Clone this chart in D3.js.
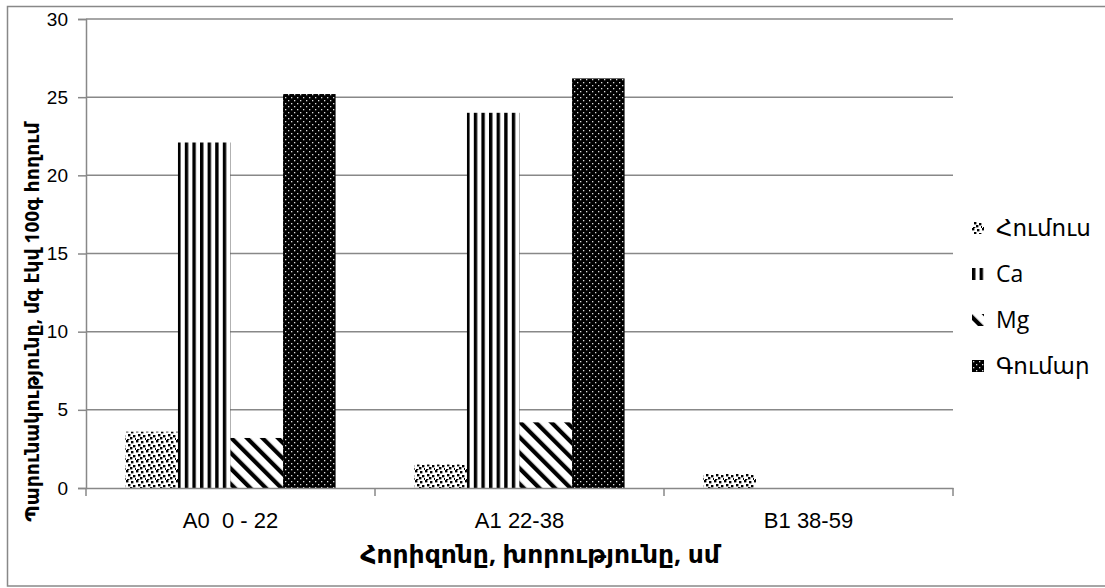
<!DOCTYPE html>
<html>
<head>
<meta charset="utf-8">
<script src="https://cdn.jsdelivr.net/npm/d3@7"></script>
<style>
  html, body { margin: 0; padding: 0; background: #fff; }
  svg { display: block; font-family: "Open Sans", "DejaVu Sans", sans-serif; }
</style>
</head>
<body>
<svg id="chart" width="1105" height="588"></svg>
<script>
// Soil horizons (depth, cm) and exchangeable cations, mg-eq per 100 g soil
const horizons = ["A0  0 - 22", "A1 22-38", "B1 38-59"];
const seriesNames = ["Հումուս", "Ca", "Mg", "Գումար"];
const humus = [3.6, 1.5, 0.9];
const calcium = [22.1, 24.0, 0];
const magnesium = [3.2, 4.2, 0];
const total = [25.2, 26.2, 0];
const yTicks = [0, 5, 10, 15, 20, 25, 30];

const seriesValues = [humus, calcium, magnesium, total];
const patternIds = ["pHumus", "pCa", "pMg", "pSum"];

const svg = d3.select("#chart");
const plotLeft = 86, plotRight = 953, plotTop = 19, plotBottom = 488;

// Hatch patterns used as bar fills
const defs = svg.append("defs");
const pH = defs.append("pattern").attr("id", "pHumus").attr("patternUnits", "userSpaceOnUse")
  .attr("width", 10).attr("height", 10);
pH.append("rect").attr("width", 10).attr("height", 10).attr("fill", "#fff");
[[0,0],[5,1],[2,4],[7,5],[4,7],[9,8],[1,9]].forEach(([x, y]) =>
  pH.append("rect").attr("x", x).attr("y", y).attr("width", 2.4).attr("height", 2.4).attr("fill", "#000"));

const pC = defs.append("pattern").attr("id", "pCa").attr("patternUnits", "userSpaceOnUse")
  .attr("width", 7.6).attr("height", 10);
pC.append("rect").attr("width", 7.6).attr("height", 10).attr("fill", "#fff");
pC.append("rect").attr("x", 0).attr("width", 3.4).attr("height", 10).attr("fill", "#000");

const pM = defs.append("pattern").attr("id", "pMg").attr("patternUnits", "userSpaceOnUse")
  .attr("width", 11).attr("height", 11).attr("patternTransform", "rotate(-45)");
pM.append("rect").attr("width", 11).attr("height", 11).attr("fill", "#fff");
pM.append("rect").attr("x", 0).attr("width", 4.2).attr("height", 11).attr("fill", "#000");

const pS = defs.append("pattern").attr("id", "pSum").attr("patternUnits", "userSpaceOnUse")
  .attr("width", 6).attr("height", 6);
pS.append("rect").attr("width", 6).attr("height", 6).attr("fill", "#000");
pS.append("rect").attr("x", 1).attr("y", 1).attr("width", 1.3).attr("height", 1.3).attr("fill", "#ddd");
pS.append("rect").attr("x", 4).attr("y", 4).attr("width", 1.3).attr("height", 1.3).attr("fill", "#ddd");

// Outer frame
svg.append("rect").attr("x", 7.5).attr("y", 6.5).attr("width", 1110).attr("height", 579.5)
  .attr("fill", "none").attr("stroke", "#888").attr("stroke-width", 1.5);

const x0 = d3.scaleBand().domain(horizons).range([plotLeft, plotRight]).padding(0);
const x1 = d3.scaleBand().domain(seriesNames).range([0, x0.bandwidth()]).paddingInner(0).paddingOuter(0.75);
const y = d3.scaleLinear().domain([0, 30]).range([plotBottom, plotTop]);

// Gridlines and value axis
const yAxis = d3.axisLeft(y).tickValues(yTicks).tickSize(8).tickPadding(10).tickFormat(d3.format("d"));
const gy = svg.append("g").attr("transform", `translate(${plotLeft},0)`).call(yAxis);
gy.select(".domain").attr("stroke", "#888").attr("stroke-width", 1.5);
gy.selectAll(".tick line").attr("stroke", "#888").attr("stroke-width", 1.5);
gy.selectAll(".tick text").attr("font-size", 19).attr("fill", "#000");

svg.append("g").selectAll("line").data(yTicks.filter(d => d > 0)).join("line")
  .attr("x1", plotLeft).attr("x2", plotRight).attr("y1", d => y(d)).attr("y2", d => y(d))
  .attr("stroke", "#888").attr("stroke-width", 1.5);

// Bars
const groups = svg.append("g").selectAll("g").data(horizons).join("g")
  .attr("transform", d => `translate(${x0(d)},0)`);
groups.selectAll("rect")
  .data((h, i) => seriesNames.map((s, j) => ({ s, j, v: seriesValues[j][i] })))
  .join("rect")
  .attr("x", d => x1(d.s))
  .attr("width", x1.bandwidth())
  .attr("y", d => y(d.v))
  .attr("height", d => y(0) - y(d.v))
  .attr("fill", d => `url(#${patternIds[d.j]})`);

// Category axis
const xAxis = d3.axisBottom(x0).tickSize(0).tickPadding(24);
const gx = svg.append("g").attr("transform", `translate(0,${plotBottom})`).call(xAxis);
gx.select(".domain").attr("stroke", "#888").attr("stroke-width", 1.5);
gx.selectAll(".tick text").attr("font-size", 22).attr("fill", "#000").style("white-space", "pre");
const bounds = horizons.map(h => x0(h)).concat([plotRight]);
svg.append("g").selectAll("line").data(bounds).join("line")
  .attr("x1", d => d).attr("x2", d => d).attr("y1", plotBottom).attr("y2", plotBottom + 8)
  .attr("stroke", "#888").attr("stroke-width", 1.5);

// Axis titles
svg.append("text").attr("x", 540).attr("y", 563).attr("text-anchor", "middle")
  .attr("font-size", 25).attr("font-weight", "bold").text("Հորիզոնը, խորությունը, սմ");
svg.append("text").attr("transform", "translate(39,322) rotate(-90)").attr("text-anchor", "middle")
  .attr("font-size", 19).attr("font-weight", "bold").text("Պարունակությունը,  մգ էկվ 100գ հողում");

// Legend
const legend = svg.append("g").selectAll("g").data(seriesNames).join("g")
  .attr("transform", (d, i) => `translate(972,${228 + i * 46})`);
legend.append("rect").attr("x", 0).attr("y", -6).attr("width", 12).attr("height", 12)
  .attr("fill", (d, i) => `url(#${patternIds[i]})`);
legend.append("text").attr("x", 24).attr("y", 8).attr("font-size", 23).text(d => d);
</script>
</body>
</html>
